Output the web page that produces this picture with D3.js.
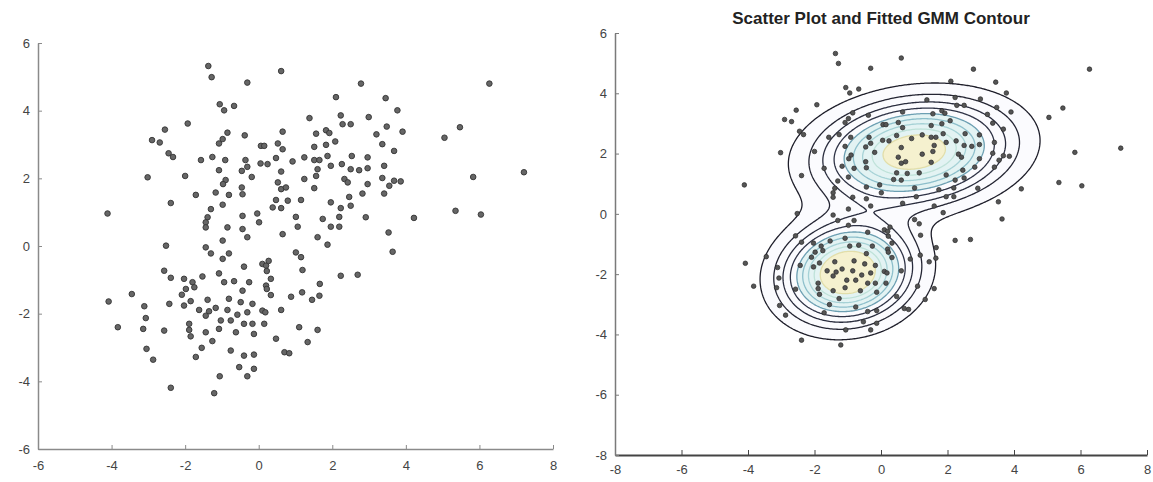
<!DOCTYPE html>
<html>
<head>
<meta charset="utf-8">
<script src="https://cdn.jsdelivr.net/npm/d3@7"></script>
<style>
  html, body { margin: 0; padding: 0; background: #fff; }
  svg { display: block; font-family: "Liberation Sans", Arial, sans-serif; }
</style>
</head>
<body>
<svg id="chart" width="1153" height="482"></svg>
<script>
// Observed sample (x, y)
const pointsX = [
  -1.37,-1.28,-0.31,-1.06,-0.94,-0.67,-1.93,-2.55,-2.90,-2.69,-2.45,-2.33,-0.85,-0.98,-1.08,-0.38,0.06,-1.57,-1.26,-0.91,-0.36,-1.08,-0.46,-0.31,-0.19,0.05,-3.02,-2.00,-0.90,-0.97,-0.46,-1.71,-1.17,-0.81,-0.44,-2.39,-0.98,-1.30,-4.11,-0.04,-0.44,-1.39,-1.44,0.01,
  0.61,2.78,2.10,3.45,3.77,1.38,2.23,2.28,2.50,2.99,0.65,1.56,1.83,1.92,3.20,3.48,3.91,0.52,0.65,1.51,1.83,2.08,3.36,3.68,0.15,0.47,0.24,0.92,1.24,1.51,1.65,1.87,2.53,2.96,1.96,2.26,2.50,2.73,2.96,3.41,0.61,1.24,1.56,1.60,2.33,2.42,2.96,3.36,3.55,3.68,3.86,0.52,0.61,0.74,1.51,2.82,3.41,0.47,0.79,1.15,1.96,2.46,0.38,0.61,2.23,2.50,1.01,1.74,2.19,2.91,4.22,
  -1.44,-0.85,-0.44,-0.31,-2.52,-0.98,-1.44,-1.30,-0.81,-0.98,-2.57,-2.39,-0.40,0.10,-1.08,-1.53,-2.03,-1.80,-1.75,-1.98,-0.94,-0.67,-0.26,-0.44,-2.09,-3.45,-4.08,-3.11,-2.43,-2.03,-1.85,-1.39,-0.81,-0.49,-0.17,-1.62,-1.35,-1.17,-1.44,-0.85,-0.58,-0.31,0.10,-3.07,-3.83,-3.14,-2.57,-1.89,-1.89,-1.03,-0.76,-0.40,-0.17,-1.85,-1.44,-1.08,-0.62,-1.26,-0.13,-3.05,-2.87,-1.71,-1.55,-0.76,-0.40,-0.13,-0.53,-0.13,-0.31,-1.06,-2.39,-1.21,
  0.65,1.06,1.60,1.87,1.96,2.19,3.53,3.64,1.01,1.15,1.19,0.20,0.20,2.23,2.69,1.66,1.18,0.88,1.45,1.65,0.61,0.18,0.15,1.10,1.60,0.47,1.33,0.70,0.83,0.27,0.22,0.33,0.22,0.33,
  5.05,5.47,5.83,7.21,5.35,6.04,6.27
];
const pointsY = [
  5.32,4.99,4.83,4.19,4.01,4.14,3.62,3.44,3.13,3.06,2.74,2.63,3.35,3.16,3.03,3.27,2.96,2.54,2.63,2.54,2.54,2.24,2.22,2.34,2.04,2.44,2.03,2.07,1.95,1.83,1.73,1.51,1.58,1.51,1.53,1.27,1.22,1.09,0.96,0.96,0.89,0.85,0.70,0.70,
  5.17,4.80,4.40,4.37,4.01,3.78,3.86,3.60,3.60,3.81,3.38,3.32,3.42,3.34,3.30,3.53,3.38,3.03,2.86,2.93,2.99,3.09,3.01,2.81,2.96,2.60,2.42,2.50,2.62,2.54,2.54,2.66,2.66,2.62,2.37,2.42,2.27,2.24,2.30,2.37,2.20,1.98,2.07,2.27,1.98,1.88,1.83,2.01,1.78,1.93,1.91,1.88,1.68,1.73,1.71,1.55,1.55,1.36,1.34,1.36,1.29,1.45,1.14,1.12,1.12,1.19,0.86,0.80,0.86,0.85,0.83,
  0.55,0.55,0.50,0.26,0.01,0.16,-0.04,-0.22,-0.22,-0.38,-0.73,-0.94,-0.61,-0.53,-0.81,-0.90,-0.97,-1.07,-1.22,-1.27,-1.07,-1.04,-1.07,-1.32,-1.44,-1.42,-1.64,-1.78,-1.71,-1.76,-1.63,-1.59,-1.56,-1.66,-1.71,-1.89,-1.93,-1.83,-2.06,-1.89,-2.03,-1.96,-1.91,-2.13,-2.40,-2.45,-2.50,-2.30,-2.48,-2.20,-2.20,-2.30,-2.30,-2.67,-2.55,-2.45,-2.55,-2.81,-2.60,-3.04,-3.36,-3.28,-3.01,-3.09,-3.24,-3.21,-3.58,-3.63,-3.85,-3.85,-4.19,-4.35,
  0.35,0.57,0.26,0.04,0.57,0.57,0.40,-0.17,-0.19,-0.33,-0.71,-0.58,-1.17,-0.88,-0.85,-1.12,-1.37,-1.50,-1.59,-1.47,-1.89,-1.96,-2.30,-2.40,-2.48,-2.74,-2.84,-3.14,-3.17,-0.44,-0.74,-0.97,-1.27,-1.45,
  3.20,3.51,2.04,2.18,1.04,0.93,4.80
];

// Fitted two-component Gaussian mixture
const gmmWeights = [0.58, 0.42];
const gmmMeans = [[1.0, 2.05], [-1.0, -1.95]];
const gmmCovs = [[[3.0, 0.3], [0.3, 1.1]], [[1.4, 0.12], [0.12, 1.0]]];
const contourLevels = [0.00474, 0.0097, 0.01465, 0.0196, 0.0246, 0.0295, 0.0345, 0.0395, 0.0445];

// Axis ticks
const leftXTicks = [-6, -4, -2, 0, 2, 4, 6, 8];
const leftYTicks = [-6, -4, -2, 0, 2, 4, 6];
const rightXTicks = [-8, -6, -4, -2, 0, 2, 4, 6, 8];
const rightYTicks = [-8, -6, -4, -2, 0, 2, 4, 6];
const chartTitle = "Scatter Plot and Fitted GMM Contour";

const points = pointsX.map((x, i) => ({ x, y: pointsY[i] }));
const svg = d3.select("#chart");
const fmt = d => String(d);

function styleAxis(g, lineColor, textColor, width) {
  g.selectAll(".domain").attr("stroke", lineColor).attr("stroke-width", width);
  g.selectAll(".tick line").attr("stroke", lineColor);
  g.selectAll(".tick text").attr("fill", textColor).attr("font-size", 13);
}

// ---------- Left panel: raw scatter ----------
const lx = d3.scaleLinear().domain([-6, 8]).range([38, 553]);
const ly = d3.scaleLinear().domain([-6, 6]).range([449, 43]);
const left = svg.append("g");

const lxAxis = left.append("g").attr("transform", `translate(0,${ly(-6)})`)
  .call(d3.axisBottom(lx).tickValues(leftXTicks).tickFormat(fmt).tickSizeInner(-4).tickSizeOuter(0).tickPadding(12));
styleAxis(lxAxis, "#8a8a8a", "#444", 1.5);
const lyAxis = left.append("g").attr("transform", `translate(${lx(-6)},0)`)
  .call(d3.axisLeft(ly).tickValues(leftYTicks).tickFormat(fmt).tickSizeInner(-4).tickSizeOuter(0).tickPadding(8));
styleAxis(lyAxis, "#8a8a8a", "#444", 1.5);

left.append("g").selectAll("circle").data(points).join("circle")
  .attr("cx", d => lx(d.x)).attr("cy", d => ly(d.y)).attr("r", 2.8)
  .attr("fill", "#666").attr("stroke", "#333").attr("stroke-width", 0.9);

// ---------- Right panel: scatter with GMM density contours ----------
const rx = d3.scaleLinear().domain([-8, 8]).range([615, 1147]);
const ry = d3.scaleLinear().domain([-8, 6]).range([455, 33]);
const right = svg.append("g");

function gaussPdf(x, y, mu, S) {
  const det = S[0][0] * S[1][1] - S[0][1] * S[1][0];
  const dx = x - mu[0], dy = y - mu[1];
  const q = (S[1][1] * dx * dx - 2 * S[0][1] * dx * dy + S[0][0] * dy * dy) / det;
  return Math.exp(-0.5 * q) / (2 * Math.PI * Math.sqrt(det));
}
function mixture(x, y) {
  return gmmWeights.reduce((s, w, k) => s + w * gaussPdf(x, y, gmmMeans[k], gmmCovs[k]), 0);
}

const step = 0.04;
const gx0 = -8, gy0 = -8;
const nx = Math.round(16 / step) + 1, ny = Math.round(14 / step) + 1;
const grid = new Array(nx * ny);
for (let j = 0; j < ny; j++) {
  for (let i = 0; i < nx; i++) {
    grid[i + j * nx] = mixture(gx0 + i * step, gy0 + j * step);
  }
}
const bands = d3.contours().size([nx, ny]).thresholds(contourLevels)(grid);
const toScreen = d3.geoTransform({
  point(px, py) {
    this.stream.point(rx(gx0 + (px - 0.5) * step), ry(gy0 + (py - 0.5) * step));
  }
});
const path = d3.geoPath(toScreen);

// outer levels drawn dark, middle levels light blue, the top level pale yellow
const fillFor = i => i >= 8 ? "#f5f1cf" : i >= 4 ? "#e3f3f3" : "#fbfbfe";
const strokeFor = d3.scaleLinear()
  .domain([0, 3, 4, 5, 6, 7, 8])
  .range(["#1e1e2a", "#2f3346", "#6c9fb2", "#8dbfcb", "#a6d2d6", "#bfe2d9", "#e2deaa"]);

right.append("g").selectAll("path").data(bands).join("path")
  .attr("d", path)
  .attr("fill", (d, i) => fillFor(i))
  .attr("stroke", (d, i) => strokeFor(i))
  .attr("stroke-width", 1.3);

const rxAxis = right.append("g").attr("transform", `translate(0,${ry(-8)})`)
  .call(d3.axisBottom(rx).tickValues(rightXTicks).tickFormat(fmt).tickSizeInner(-5).tickSizeOuter(0).tickPadding(10));
styleAxis(rxAxis, "#444", "#444", 1.8);
const ryAxis = right.append("g").attr("transform", `translate(${rx(-8)},0)`)
  .call(d3.axisLeft(ry).tickValues(rightYTicks).tickFormat(fmt).tickSizeInner(-4).tickSizeOuter(0).tickPadding(8));
styleAxis(ryAxis, "#7a7a7a", "#444", 1.5);

right.append("g").selectAll("circle").data(points).join("circle")
  .attr("cx", d => rx(d.x)).attr("cy", d => ry(d.y)).attr("r", 2.3)
  .attr("fill", "#555").attr("stroke", "#2a2a2a").attr("stroke-width", 0.7);

right.append("text")
  .attr("x", (rx(-8) + rx(8)) / 2).attr("y", 24)
  .attr("text-anchor", "middle").attr("font-weight", "bold").attr("font-size", 17)
  .attr("fill", "#222")
  .text(chartTitle);
</script>
</body>
</html>
